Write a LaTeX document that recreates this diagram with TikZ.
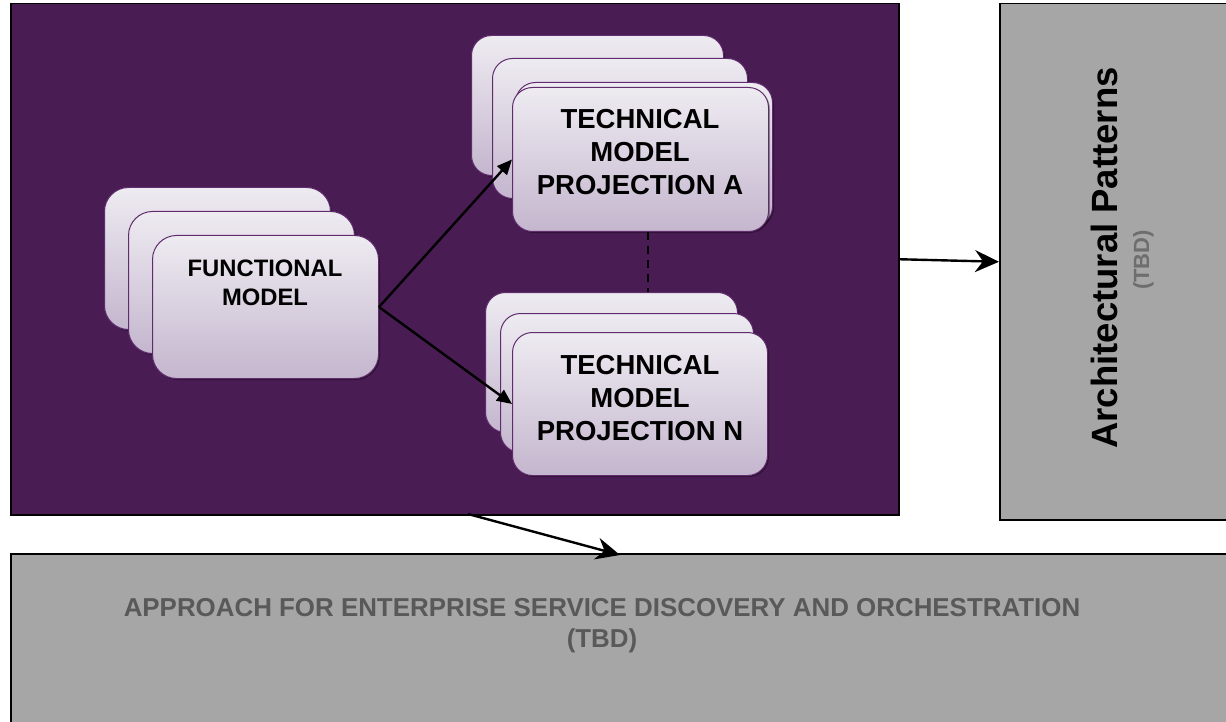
\documentclass[tikz,border=0pt]{standalone}
\usepackage{fontspec}
\setmainfont{Liberation Sans}
\usetikzlibrary{arrows.meta,shadows,calc}
\definecolor{purp}{RGB}{74,28,84}
\definecolor{boxgray}{RGB}{166,166,166}
\definecolor{txtgray}{RGB}{89,89,89}
\definecolor{tbdgray}{RGB}{110,110,110}
\definecolor{cardtop}{RGB}{238,235,241}
\definecolor{cardbot}{RGB}{196,182,206}
\definecolor{cardedge}{RGB}{96,44,110}
\begin{document}
\begin{tikzpicture}[x=1pt,y=-1pt,
  card/.style={draw=cardedge, line width=1pt, rounded corners=20pt,
    top color=cardtop, bottom color=cardbot, anchor=north west, inner sep=0pt,
    drop shadow={shadow xshift=1.5pt, shadow yshift=-1.5pt, opacity=0.35, fill=black}},
  panel/.style={draw=black, line width=1.5pt, anchor=north west, inner sep=0pt},
  cardtext/.style={align=center, inner sep=0pt, font=\bfseries},
  inarrow/.style={draw=black, line width=2.4pt, -{Triangle[length=15pt,width=13pt]}},
  outarrow/.style={draw=black, line width=2.4pt, -{Stealth[length=24pt,width=22pt,inset=8pt]}},
  dashconn/.style={draw=black, line width=1.5pt, dash pattern=on 8pt off 6pt}
]
\useasboundingbox (0,0) rectangle (1226,722);
\clip (0,0) rectangle (1226,722);
\fill[white] (0,0) rectangle (1226,722);

% main purple panel
\node[panel, fill=purp, minimum width=888pt, minimum height=511pt] (pur) at (10,3) {};

% functional model stack
\node[card, rounded corners=24pt, minimum width=226pt, minimum height=142pt] (f1) at (104,187) {};
\node[card, rounded corners=24pt, minimum width=226pt, minimum height=142pt] (f2) at (128,211) {};
\node[card, rounded corners=24pt, minimum width=226pt, minimum height=143pt] (f3) at (152,235) {};
\node[cardtext, font=\bfseries\fontsize{23.8}{28.5}\selectfont] (ftxt) at (265,283) {FUNCTIONAL\\MODEL};

% technical model projection A stack
\node[card, minimum width=252pt, minimum height=140pt] (ta1) at (471,35) {};
\node[card, minimum width=255pt, minimum height=140pt] (ta2) at (492,58) {};
\node[card, minimum width=257pt, minimum height=144pt] (ta3) at (515,82) {};
\node[card, minimum width=256pt, minimum height=144pt] (ta) at (512,87) {};
\node[cardtext, font=\bfseries\fontsize{27.5}{33}\selectfont] (tatxt) at (640,152) {TECHNICAL\\MODEL\\PROJECTION A};

% technical model projection N stack
\node[card, minimum width=252pt, minimum height=140pt] (tn1) at (485,292) {};
\node[card, minimum width=253pt, minimum height=139pt] (tn2) at (500,313) {};
\node[card, minimum width=255pt, minimum height=143pt] (tn) at (512,332) {};
\node[cardtext, font=\bfseries\fontsize{27.5}{33}\selectfont] (tntxt) at (640,398) {TECHNICAL\\MODEL\\PROJECTION N};

% connectors inside panel
\draw[inarrow] (f3.east) -- (ta.west);
\draw[inarrow] (f3.east) -- (tn.west);
\coordinate (dx) at (648,0);
\draw[dashconn] (ta.south -| dx) -- (tn1.north -| dx);

% right gray panel
\node[panel, fill=boxgray, minimum width=240pt, minimum height=516pt] (ap) at (999,3) {};
\node[rotate=90, anchor=base, inner sep=0pt, font=\bfseries\fontsize{36.5}{40}\selectfont] (aptxt) at (1117,258) {Architectural Patterns};
\node[rotate=90, anchor=base, inner sep=0pt, text=tbdgray, font=\bfseries\fontsize{22}{26}\selectfont] (aptbd) at (1149,260) {(TBD)};

% bottom gray panel
\node[panel, fill=boxgray, minimum width=1230pt, minimum height=190pt] (bot) at (10,553) {};
\node[cardtext, text=txtgray, font=\bfseries\fontsize{25.9}{31}\selectfont] (bottxt) at (602,626) {APPROACH FOR ENTERPRISE SERVICE DISCOVERY AND ORCHESTRATION\\(TBD)};

% connectors out of panel
\draw[outarrow] (pur.east) -- (ap.west);
\coordinate (b1) at (468,514);
\coordinate (b2) at (620,555);
\draw[outarrow] (b1) -- (b2);
\end{tikzpicture}
\end{document}
